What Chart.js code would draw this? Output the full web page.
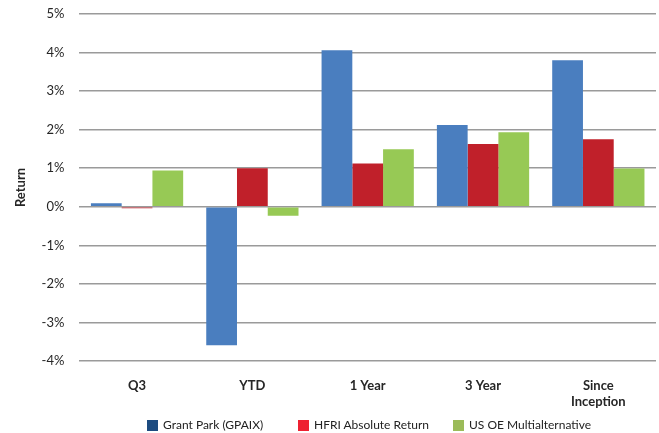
<!DOCTYPE html>
<html>
<head>
<meta charset="utf-8">
<script src="https://cdn.jsdelivr.net/npm/chart.js@4.4.1/dist/chart.umd.min.js"></script>
<style>
  html, body { margin: 0; padding: 0; background: #fff; }
  #wrap { position: relative; width: 659px; height: 433px; }
  #chart { display: block; }
  #legend { position: absolute; left: 147px; top: 419px; display: flex; font: 12px Lato, sans-serif; color: #222; line-height: 12px; }
  #legend .item { display: flex; align-items: center; white-space: nowrap; }
  #legend .box { width: 11px; height: 11px; margin-right: 5px; flex: none; }
</style>
</head>
<body>
<div id="wrap">
  <canvas id="chart" width="659" height="433"></canvas>
  <div id="legend"></div>
</div>
<script>
const categories = ['Q3', 'YTD', '1 Year', '3 Year', ['Since', 'Inception']];
const seriesNames = ['Grant Park (GPAIX)', 'HFRI Absolute Return', 'US OE Multialternative'];
const grantPark = [0.09, -3.59, 4.06, 2.12, 3.80];
const hfri = [-0.04, 1.00, 1.12, 1.63, 1.75];
const usOe = [0.94, -0.23, 1.49, 1.93, 0.99];
const barColors = ['#4a7ebf', '#c0202a', '#97c955'];
const legendColors = ['#1d4b80', '#ee2131', '#9bbb59'];
const legendWidths = [151, 155, 150];

const ink = '#262626';

new Chart(document.getElementById('chart'), {
  type: 'bar',
  data: {
    labels: categories,
    datasets: [grantPark, hfri, usOe].map((data, i) => ({
      label: seriesNames[i],
      data,
      backgroundColor: barColors[i],
      borderWidth: 0,
      categoryPercentage: 0.8,
      barPercentage: 1.0
    }))
  },
  options: {
    responsive: false,
    animation: false,
    layout: { padding: { top: 14, left: 13, right: 3, bottom: 6 } },
    plugins: { legend: { display: false }, tooltip: { enabled: false } },
    scales: {
      x: {
        grid: { display: false, drawTicks: false },
        border: { display: false },
        ticks: {
          padding: 17,
          color: ink,
          maxRotation: 0,
          font: { family: 'Lato', size: 13, weight: 'bold', lineHeight: 1.23 }
        }
      },
      y: {
        min: -4,
        max: 5,
        border: { display: false },
        // transparent tick marks give the gap between labels and grid
        grid: { color: '#9a9a9a', lineWidth: 1.5, drawTicks: true, tickLength: 15, tickColor: 'rgba(0,0,0,0)' },
        ticks: {
          stepSize: 1,
          padding: 0,
          color: ink,
          font: { family: 'Lato', size: 13 },
          callback: v => v + '%'
        },
        title: {
          display: true,
          text: 'Return',
          color: ink,
          padding: { top: 0, bottom: 13 },
          font: { family: 'Lato', size: 13, weight: 'bold' }
        }
      }
    }
  }
});

const legend = document.getElementById('legend');
legend.innerHTML = seriesNames.map((name, i) => `
  <div class="item" style="width:${legendWidths[i]}px">
    <span class="box" style="background:${legendColors[i]}"></span><span>${name}</span>
  </div>`).join('');
</script>
</body>
</html>
